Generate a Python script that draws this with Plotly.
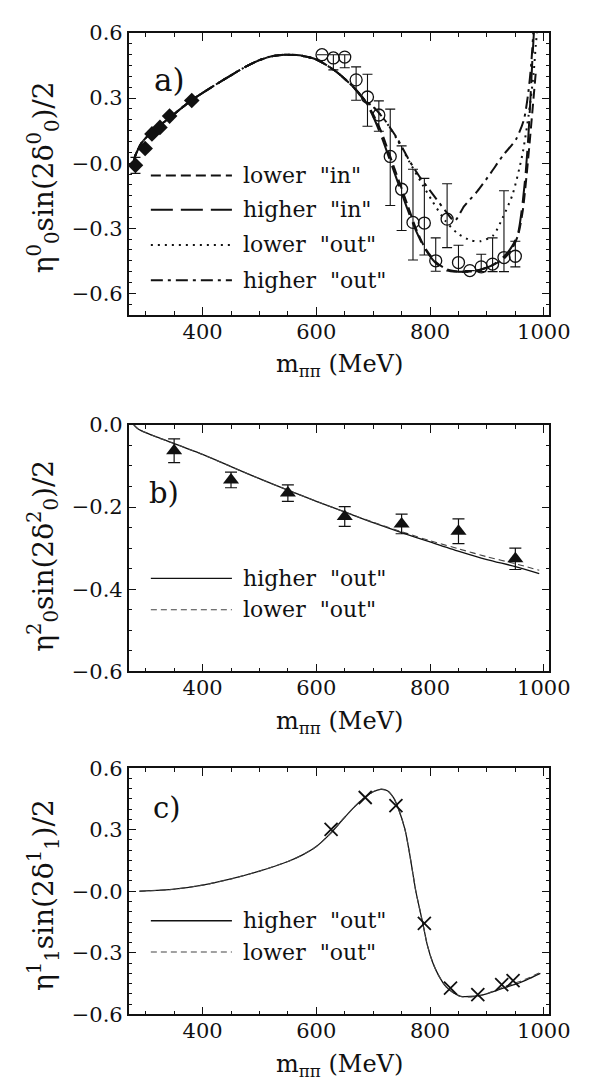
import plotly.graph_objects as go

W, H = 603, 1091

# ---------------- Panel a data ----------------
a_diamond_m = [282, 299, 311, 325, 342, 381]
a_diamond_v = [-0.01, 0.068, 0.135, 0.165, 0.217, 0.289]
a_diamond_err = [0.037, 0.0, 0.0, 0.0, 0.0, 0.0]

a_circle_m = [610, 630, 650, 670, 690, 710, 730, 750, 770, 790, 810, 830, 850, 870, 890, 910, 930, 950]
a_circle_v = [0.50, 0.485, 0.489, 0.384, 0.305, 0.222, 0.031, -0.12, -0.273, -0.276,
              -0.45, -0.258, -0.458, -0.495, -0.478, -0.465, -0.435, -0.429]
a_circle_hi = [0.50, 0.50, 0.50, 0.444, 0.41, 0.287, 0.249, 0.08, -0.028, -0.07,
               -0.344, -0.095, -0.378, -0.495, -0.42, -0.344, -0.127, -0.36]
a_circle_lo = [0.50, 0.43, 0.44, 0.29, 0.17, 0.147, -0.195, -0.31, -0.446, -0.423,
               -0.498, -0.389, -0.5, -0.495, -0.5, -0.5, -0.5, -0.478]

a_common_m = [279, 281, 285, 293, 312, 341, 380, 420, 450, 476, 500, 520, 545, 570, 600, 634, 663, 685]
a_common_v = [0.0, 0.03, 0.055, 0.095, 0.147, 0.207, 0.289, 0.357, 0.405, 0.445, 0.475,
              0.492, 0.5, 0.497, 0.478, 0.424, 0.357, 0.29]

a_lower_in_m = [700, 715, 730, 745, 760, 775, 790, 810, 830, 850, 870, 890, 910, 930, 945, 955, 963, 970, 976, 981, 986]
a_lower_in_v = [0.225, 0.14, 0.03, -0.08, -0.19, -0.3, -0.385, -0.455, -0.49, -0.5, -0.499,
                -0.49, -0.47, -0.44, -0.39, -0.33, -0.22, -0.05, 0.12, 0.27, 0.42]
a_higher_in_m = [700, 715, 730, 745, 760, 775, 790, 810, 830, 850, 870, 890, 910, 930, 945, 955, 962, 968, 973, 977, 980, 983]
a_higher_in_v = [0.215, 0.12, 0.01, -0.1, -0.21, -0.31, -0.39, -0.46, -0.495, -0.5, -0.5,
                 -0.49, -0.47, -0.43, -0.38, -0.32, -0.2, -0.05, 0.13, 0.32, 0.48, 0.62]
a_lower_out_m = [700, 720, 742, 764, 787, 804, 827, 849, 871, 888, 911, 928, 945, 962, 973, 982, 986, 990]
a_lower_out_v = [0.26, 0.2, 0.11, 0.005, -0.1, -0.175, -0.266, -0.325, -0.355, -0.36, -0.333,
                 -0.25, -0.145, 0.035, 0.215, 0.41, 0.545, 0.65]
a_higher_out_m = [700, 720, 742, 764, 781, 804, 827, 843, 860, 883, 906, 928, 951, 965, 973, 978, 982]
a_higher_out_v = [0.26, 0.2, 0.115, 0.01, -0.06, -0.14, -0.22, -0.266, -0.198, -0.13, -0.048,
                  0.035, 0.109, 0.2, 0.33, 0.46, 0.62]

# ---------------- Panel b data ----------------
b_tri_m = [350, 450, 550, 650, 750, 850, 950]
b_tri_v = [-0.063, -0.134, -0.166, -0.223, -0.241, -0.259, -0.326]
b_tri_err = [0.029, 0.019, 0.02, 0.024, 0.024, 0.03, 0.026]

b_curve_m = [279, 285, 292, 320, 351, 400, 449, 500, 552, 600, 650, 700, 750, 800, 851, 900, 950, 992]
b_higher_out_v = [0.0, -0.008, -0.014, -0.03, -0.046, -0.072, -0.101, -0.131, -0.16, -0.186,
                  -0.212, -0.238, -0.262, -0.285, -0.308, -0.328, -0.345, -0.362]
b_lower_out_v = [0.0, -0.008, -0.014, -0.03, -0.046, -0.072, -0.101, -0.131, -0.16, -0.186,
                 -0.212, -0.237, -0.26, -0.282, -0.302, -0.321, -0.338, -0.354]

# ---------------- Panel c data ----------------
c_cross_m = [626, 686, 740, 790, 836, 884, 926, 946]
c_cross_v = [0.302, 0.457, 0.417, -0.157, -0.472, -0.504, -0.455, -0.436]

c_curve_m = [289, 350, 400, 450, 500, 550, 575, 600, 625, 645, 664, 684, 700, 713, 725, 736, 746,
             756, 763, 769, 775, 782, 789, 795, 805, 815, 828, 841, 854, 870, 887, 905, 926, 945,
             958, 975, 994]
c_higher_out_v = [0.0, 0.01, 0.03, 0.06, 0.098, 0.145, 0.176, 0.218, 0.282, 0.345, 0.403, 0.455, 0.485,
                  0.497, 0.49, 0.455, 0.39, 0.3, 0.2, 0.1, 0.0, -0.09, -0.18, -0.26, -0.35, -0.41,
                  -0.465, -0.495, -0.512, -0.513, -0.508, -0.495, -0.475, -0.458, -0.446, -0.425, -0.4]
c_lower_out_v = [0.0, 0.01, 0.03, 0.06, 0.098, 0.145, 0.176, 0.218, 0.282, 0.345, 0.403, 0.455, 0.485,
                 0.497, 0.49, 0.455, 0.39, 0.3, 0.2, 0.1, 0.0, -0.09, -0.18, -0.26, -0.35, -0.41,
                 -0.465, -0.495, -0.513, -0.515, -0.51, -0.494, -0.47, -0.452, -0.44, -0.42, -0.395]

x_ticks = [400, 600, 800, 1000]
x_ticktext = ["400", "600", "800", "1000"]
ya_ticks = [-0.6, -0.3, 0.0, 0.3, 0.6]
ya_ticktext = ["\u22120.6", "\u22120.3", "\u22120.0", "0.3", "0.6"]
yb_ticks = [-0.6, -0.4, -0.2, 0.0]
yb_ticktext = ["\u22120.6", "\u22120.4", "\u22120.2", "0.0"]
yc_ticks = ya_ticks
yc_ticktext = ya_ticktext

legend_a = ['lower\u00a0\u00a0"in"', 'higher\u00a0\u00a0"in"', 'lower\u00a0\u00a0"out"', 'higher\u00a0\u00a0"out"']
legend_bc = ['higher\u00a0\u00a0"out"', 'lower\u00a0\u00a0"out"']

FONT = "DejaVu Serif"
INK = "#111111"

def px2x(px):
    return px / W

def px2y(py):
    return 1 - py / H

# plot-area boxes in pixels (left, right, top, bottom)
BOX_L, BOX_R = 125, 561
BOX_A = (13.3, 301.7)
BOX_B = (414.0, 666.0)
BOX_C = (765.0, 1016.7)

fig = go.Figure()

DASH_LIN = "10px,5px"
DASH_HIN = "22px,8px"
DASH_LOUT = "2px,5px"
DASH_HOUT = "12px,5px,3px,5px"

def curve(xs, ys, dash, xa, ya, width=2.0, color=INK):
    fig.add_trace(go.Scatter(x=xs, y=ys, mode="lines", xaxis=xa, yaxis=ya,
                             line=dict(color=color, width=width, dash=dash, shape="spline", smoothing=0.7),
                             hoverinfo="skip"))

# Panel a curves
curve(a_common_m + a_lower_in_m, a_common_v + a_lower_in_v, DASH_LIN, "x", "y")
curve(a_common_m + a_higher_in_m, a_common_v + a_higher_in_v, DASH_HIN, "x", "y")
curve(a_common_m + a_lower_out_m, a_common_v + a_lower_out_v, DASH_LOUT, "x", "y")
curve(a_common_m + a_higher_out_m, a_common_v + a_higher_out_v, DASH_HOUT, "x", "y")

# Panel a data
a_up = [h - v for h, v in zip(a_circle_hi, a_circle_v)]
a_dn = [v - l for l, v in zip(a_circle_lo, a_circle_v)]
fig.add_trace(go.Scatter(x=a_circle_m, y=a_circle_v, mode="markers", xaxis="x", yaxis="y",
                         marker=dict(symbol="circle-open", size=12, color=INK, line=dict(width=1.3)),
                         error_y=dict(type="data", symmetric=False, array=a_up, arrayminus=a_dn,
                                      color=INK, thickness=1.1, width=5)))
fig.add_trace(go.Scatter(x=a_diamond_m, y=a_diamond_v, mode="markers", xaxis="x", yaxis="y",
                         marker=dict(symbol="diamond", size=12, color=INK),
                         error_y=dict(type="data", array=a_diamond_err, color=INK, thickness=1.1, width=5)))

# Panel b
curve(b_curve_m, b_higher_out_v, "solid", "x2", "y2", width=1.3)
curve(b_curve_m, b_lower_out_v, "6px,4px", "x2", "y2", width=1.1, color="#444444")
fig.add_trace(go.Scatter(x=b_tri_m, y=b_tri_v, mode="markers", xaxis="x2", yaxis="y2",
                         marker=dict(symbol="triangle-up", size=14, color=INK),
                         error_y=dict(type="data", array=b_tri_err, color=INK, thickness=1.2, width=6)))

# Panel c
curve(c_curve_m, c_higher_out_v, "solid", "x3", "y3", width=1.3)
curve(c_curve_m, c_lower_out_v, "6px,4px", "x3", "y3", width=1.1, color="#444444")
fig.add_trace(go.Scatter(x=c_cross_m, y=c_cross_v, mode="markers", xaxis="x3", yaxis="y3",
                         marker=dict(symbol="x-thin", size=13, color=INK, line=dict(width=1.8, color=INK))))

def xaxis_cfg(anchor):
    return dict(domain=[px2x(BOX_L), px2x(BOX_R)], anchor=anchor, range=[270, 1010],
                tickvals=x_ticks, ticktext=x_ticktext, ticks="inside", ticklen=8, tickwidth=1.2,
                tickcolor=INK, showline=True, linecolor=INK, linewidth=1.5, mirror="ticks",
                showgrid=False, zeroline=False, tickfont=dict(family=FONT, size=21, color=INK),
                ticklabelstandoff=-3,
                minor=dict(ticks="inside", ticklen=4, dtick=50, tick0=0, tickcolor=INK, tickwidth=1,
                           showgrid=False))

def yaxis_cfg(anchor, box, rng, tv, tt):
    return dict(domain=[px2y(box[1]), px2y(box[0])], anchor=anchor, range=rng,
                tickvals=tv, ticktext=tt, ticks="inside", ticklen=8, tickwidth=1.2,
                tickcolor=INK, showline=True, linecolor=INK, linewidth=1.5, mirror="ticks",
                showgrid=False, zeroline=False, tickfont=dict(family=FONT, size=21, color=INK),
                minor=dict(ticks="inside", ticklen=4, dtick=0.05, tick0=0, tickcolor=INK, tickwidth=1,
                           showgrid=False))

fig.update_layout(
    width=W, height=H, autosize=False,
    margin=dict(l=0, r=0, t=0, b=0),
    plot_bgcolor="white", paper_bgcolor="white",
    showlegend=False,
    font=dict(family=FONT, color=INK, size=21),
    xaxis=xaxis_cfg("y"),
    yaxis=yaxis_cfg("x", BOX_A, [-0.7, 0.6], ya_ticks, ya_ticktext),
    xaxis2=xaxis_cfg("y2"),
    yaxis2=yaxis_cfg("x2", BOX_B, [-0.6, 0.0], yb_ticks, yb_ticktext),
    xaxis3=xaxis_cfg("y3"),
    yaxis3=yaxis_cfg("x3", BOX_C, [-0.6, 0.6], yc_ticks, yc_ticktext),
)

annotations = []
shapes = []

def ann(text, px, py, size, angle=0, xanchor="center", yanchor="middle"):
    annotations.append(dict(text=text, x=px2x(px), y=px2y(py), xref="paper", yref="paper",
                            showarrow=False, textangle=angle, xanchor=xanchor, yanchor=yanchor,
                            font=dict(family=FONT, size=size, color=INK)))

# y titles
ann("\u03b7<sup>0</sup><sub>0</sub>sin(2\u03b4<sup>0</sup><sub>0</sub>)/2", 37, 161, 28, angle=-90)
ann("\u03b7<sup>2</sup><sub>0</sub>sin(2\u03b4<sup>2</sup><sub>0</sub>)/2", 37, 548, 28, angle=-90)
ann("\u03b7<sup>1</sup><sub>1</sub>sin(2\u03b4<sup>1</sup><sub>1</sub>)/2", 37, 895, 28, angle=-90)

# x titles
for yb in (BOX_A[1], BOX_B[1], BOX_C[1]):
    ann("m<sub>\u03c0\u03c0</sub>\u00a0(MeV)", 343, yb + 34, 24, yanchor="top")

# panel labels
ann("a)", 167, 61, 31)
ann("b)", 162, 484, 29)
ann("c)", 165, 806, 29)

# manual legends
def leg_line(py, dash, width=2.0, color=INK):
    shapes.append(dict(type="line", xref="paper", yref="paper", x0=px2x(148), x1=px2x(232),
                       y0=px2y(py), y1=px2y(py), line=dict(color=color, width=width, dash=dash)))

for py, dash, txt in zip([159, 194, 230, 266], [DASH_LIN, DASH_HIN, DASH_LOUT, DASH_HOUT], legend_a):
    leg_line(py, dash)
    ann(txt, 241, py, 22, xanchor="left")

for base in (571, 921):
    leg_line(base, "solid", width=1.3)
    ann(legend_bc[0], 241, base, 22, xanchor="left")
    leg_line(base + 32, "6px,4px", width=1.1, color="#444444")
    ann(legend_bc[1], 241, base + 32, 22, xanchor="left")

fig.update_layout(annotations=annotations, shapes=shapes)

fig.write_html("out.html")
